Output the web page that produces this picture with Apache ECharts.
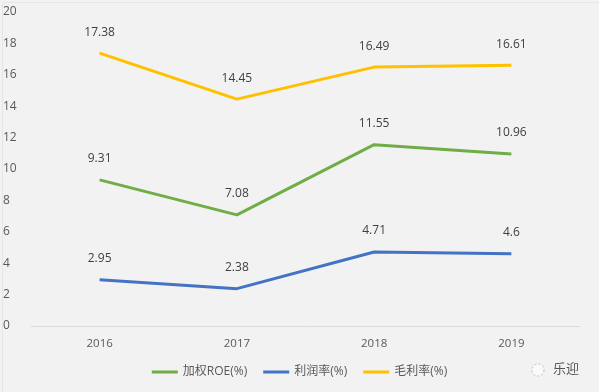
<!DOCTYPE html>
<html><head><meta charset="utf-8">
<script src="https://cdn.jsdelivr.net/npm/echarts@6/dist/echarts.min.js"></script>
<style>html,body{margin:0;padding:0;background:#f2f2f2}#c{width:599px;height:392px}</style>
</head><body><div id="c"></div>
<script>
const categories = ['2016','2017','2018','2019'];
const roe = [9.31, 7.08, 11.55, 10.96];
const profitMargin = [2.95, 2.38, 4.71, 4.6];
const grossMargin = [17.38, 14.45, 16.49, 16.61];
const seriesNames = ['加权ROE(%)','利润率(%)','毛利率(%)'];
const yTicks = {min:0, max:20, interval:2};

const chart = echarts.init(document.getElementById('c'));
const font = '"Open Sans","Noto Sans CJK SC",sans-serif';
function line(name, data, color){
  return {name, type:'line', data, symbol:'circle', symbolSize:0, showSymbol:true, smooth:false,
    lineStyle:{color, width:3}, itemStyle:{color},
    label:{show:true, position:'top', distance:15, color:'#404040', fontSize:12, fontFamily:font}};
}
chart.setOption({
  backgroundColor:'#f2f2f2',
  animation:false,
  grid:{left:28, right:19, top:12, bottom:66},
  xAxis:{type:'category', data:categories, boundaryGap:true,
    axisLine:{lineStyle:{color:'#d9d9d9'}}, axisTick:{show:false},
    axisLabel:{color:'#595959', fontSize:11.5, fontFamily:font, margin:12}},
  yAxis:{type:'value', min:yTicks.min, max:yTicks.max, interval:yTicks.interval,
    splitLine:{show:false}, axisLine:{show:false}, axisTick:{show:false},
    axisLabel:{color:'#595959', fontSize:12, fontFamily:font, margin:12, align:'left', padding:[0,0,0,-16]}},
  legend:{bottom:9, left:'center', itemWidth:26, itemHeight:3, itemGap:16, icon:'rect',
    textStyle:{color:'#595959', fontSize:12, fontFamily:font}, data:seriesNames},
  series:[line(seriesNames[0], roe, '#70ad47'), line(seriesNames[1], profitMargin, '#4472c4'), line(seriesNames[2], grossMargin, '#ffc000')],
  graphic:[
    {type:'rect', left:0, top:0, shape:{width:597, height:390}, style:{fill:'none', stroke:'#e6e6e6', lineWidth:1}},
    {type:'text', left:553, top:362, style:{text:'乐迎', fill:'#555', font:'13px "Noto Sans CJK SC"'}},
    {type:'circle', shape:{cx:538, cy:370, r:6}, style:{fill:'#fafafa', stroke:'#bbb', lineDash:[2,2]}}
  ]
});
</script></body></html>
